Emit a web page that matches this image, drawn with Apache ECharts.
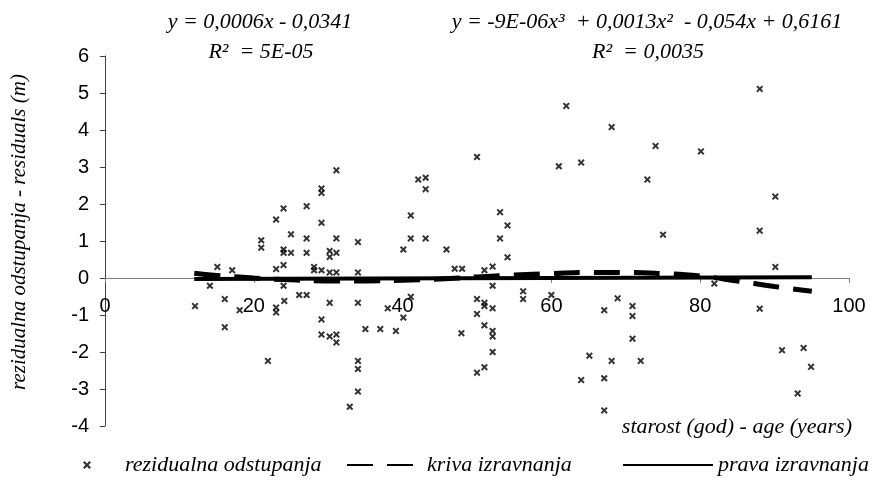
<!DOCTYPE html>
<html>
<head>
<meta charset="utf-8">
<script src="https://cdn.jsdelivr.net/npm/echarts@6/dist/echarts.min.js"></script>
<style>
  html, body { margin: 0; padding: 0; background: #fff; }
  #chart { width: 889px; height: 497px; }
</style>
</head>
<body>
<div id="chart"></div>
<script>
  // residuals (age in years, residual in m)
  const residualAge = [
    12.1, 14.1, 15.1, 16.1, 16.1, 17.1, 18.1, 21.0, 21.0, 21.9,
    23.0, 23.0, 23.0, 23.0, 24.0, 24.0, 24.0, 24.0, 24.0, 24.1,
    25.0, 25.0, 26.1, 27.1, 27.1, 27.1, 27.1, 28.1, 28.1, 29.1,
    29.1, 29.1, 29.1, 29.1, 29.1, 30.2, 30.2, 30.2, 30.2, 30.2,
    31.1, 31.1, 31.1, 31.1, 31.1, 31.1, 32.9, 34.0, 34.0, 34.0,
    34.0, 34.0, 34.0, 35.0, 37.0, 38.0, 39.1, 40.1, 40.1, 41.1,
    41.1, 41.1, 42.1, 43.1, 43.1, 43.1, 45.9, 47.0, 47.9, 48.0,
    50.0, 50.0, 50.0, 50.0, 51.0, 51.0, 51.0, 51.0, 51.0, 52.1,
    52.1, 52.1, 52.1, 52.1, 52.1, 53.1, 53.1, 54.1, 54.1, 56.2,
    56.2, 60.0, 61.0, 61.0, 62.0, 64.0, 64.0, 65.1, 67.1, 67.1,
    67.1, 68.1, 68.1, 68.9, 70.9, 70.9, 70.9, 72.0, 72.9, 74.0,
    75.0, 80.1, 81.9, 88.0, 88.0, 88.0, 90.1, 90.1, 91.0, 93.1,
    93.9, 94.9
  ]
  const residualValue = [
    -0.76, -0.21, 0.30, -0.57, -1.33, 0.21, -0.87, 1.02, 0.82, -2.24,
    1.58, 0.24, -0.80, -0.93, 1.88, 0.77, 0.68, 0.35, -0.21, -0.62,
    1.18, 0.68, -0.46, 1.94, 1.07, 0.68, -0.46, 0.30, 0.21, 2.42,
    2.30, 1.49, 0.21, -1.12, -1.53, 0.73, 0.57, 0.15, -0.67, -1.58,
    2.91, 1.07, 0.68, 0.15, -1.53, -1.74, -3.48, 0.97, 0.15, -0.67,
    -2.24, -2.46, -3.07, -1.38, -1.38, -0.82, -1.43, 0.77, -1.07, 1.69,
    1.07, -0.51, 2.66, 2.71, 2.40, 1.07, 0.77, 0.25, -1.49, 0.25,
    3.27, -0.57, -0.97, -2.56, 0.21, -0.67, -0.76, -1.28, -2.41, 0.31,
    -0.21, -0.82, -1.43, -1.58, -2.00, 1.78, 1.07, 1.42, 0.56, -0.36,
    -0.57, -0.46, 3.02, 0.10, 4.65, 3.12, -2.76, -2.10, -0.87, -2.71,
    -3.58, 4.08, -2.24, -0.55, -0.76, -1.03, -1.64, -2.24, 2.66, 3.57,
    1.17, 3.42, -0.15, 5.11, 1.28, -0.83, 2.20, 0.30, -1.95, -3.12,
    -1.89, -2.40
  ]

  // cubic trend ("kriva")
  const curveAge = [12, 15, 20, 25, 30, 35, 40, 45, 50, 55, 60, 65, 70, 75, 80, 85, 90, 95]
  const curveValue = [0.13, 0.07, 0.0, -0.05, -0.08, -0.08, -0.06, -0.03, 0.03, 0.08,
    0.12, 0.15, 0.15, 0.12, 0.05, -0.08, -0.23, -0.36]

  // linear trend ("prava"), end points
  const lineAge = [12, 95]
  const lineValue = [-0.03, 0.02]

  const xTicks = { min: 0, max: 100, interval: 20 }
  const yTicks = { min: -4, max: 6, interval: 1 }

  const eqLinear = ['y = 0,0006x - 0,0341', 'R²  = 5E-05']
  const eqCubic = ['y = -9E-06x³  + 0,0013x²  - 0,054x + 0,6161', 'R²  = 0,0035']

  const names = ['rezidualna odstupanja', 'kriva izravnanja', 'prava izravnanja']

  const serif = "'Liberation Serif', 'Times New Roman', serif"
  const sans = "'Liberation Sans', Arial, sans-serif"
  const cross = 'path://M0,2L2,0L5,3L8,0L10,2L7,5L10,8L8,10L5,7L2,10L0,8L3,5Z'

  // grid: top 56, height 370 for 10 units -> zero sits 148px above the bottom
  const gridTop = 56
  const gridBottom = 71
  const zeroOffset = -148

  const zip = (xs, ys) => xs.map((x, i) => [x, ys[i]])

  function eqText(x, y, text) {
    return {
      type: 'text',
      x: x,
      y: y,
      style: {
        text: text,
        font: 'italic 22px ' + serif,
        fill: '#000',
        align: 'center',
        verticalAlign: 'middle',
      },
    }
  }

  function legendText(padLeft) {
    return {
      fontFamily: serif,
      fontStyle: 'italic',
      fontSize: 22,
      color: '#000',
      padding: [0, 0, 0, padLeft],
    }
  }

  function buildOption() {
    return {
      animation: false,
      backgroundColor: '#fff',
      grid: { left: 105, right: 40, top: gridTop, bottom: gridBottom, containLabel: false },
      xAxis: {
        type: 'value',
        position: 'bottom',
        offset: zeroOffset,
        min: xTicks.min,
        max: xTicks.max,
        interval: xTicks.interval,
        axisLine: { onZero: false, lineStyle: { color: '#808080', width: 1 } },
        axisTick: { show: true, length: 5, lineStyle: { color: '#808080' } },
        axisLabel: { margin: 18, fontFamily: sans, fontSize: 20, color: '#000' },
        splitLine: { show: false },
      },
      yAxis: {
        type: 'value',
        min: yTicks.min,
        max: yTicks.max,
        interval: yTicks.interval,
        name: 'rezidualna odstupanja - residuals (m)',
        nameLocation: 'middle',
        nameGap: 75,
        nameTextStyle: {
          fontFamily: serif,
          fontStyle: 'italic',
          fontSize: 21,
          color: '#000',
          padding: [0, 0, 0, 18],
        },
        axisLine: { show: true, onZero: false, lineStyle: { color: '#404040', width: 1 } },
        axisTick: { show: true, length: 5, lineStyle: { color: '#404040' } },
        axisLabel: { margin: 16, fontFamily: sans, fontSize: 20, color: '#000' },
        splitLine: { show: false },
      },
      legend: [
        {
          data: [names[0]],
          left: 78,
          top: 449,
          itemWidth: 8,
          itemHeight: 8,
          textStyle: legendText(29),
        },
        {
          data: [names[1]],
          left: 341,
          top: 449,
          itemWidth: 75,
          itemHeight: 14,
          itemStyle: { opacity: 0 },
          textStyle: legendText(0),
        },
        {
          data: [names[2]],
          left: 617,
          top: 449,
          itemWidth: 90,
          itemHeight: 14,
          itemStyle: { opacity: 0 },
          textStyle: legendText(0),
        },
      ],
      graphic: [
        eqText(260, 22, eqLinear[0]),
        eqText(261, 52, eqLinear[1]),
        eqText(647, 22, eqCubic[0]),
        eqText(648, 52, eqCubic[1]),
        {
          type: 'text',
          right: 37,
          top: 416,
          style: {
            text: 'starost (god) - age (years)',
            font: 'italic 22px ' + serif,
            fill: '#000',
          },
        },
      ],
      series: [
        {
          name: names[0],
          type: 'scatter',
          data: zip(residualAge, residualValue),
          symbol: cross,
          symbolSize: 7,
          itemStyle: { color: '#000' },
          z: 3,
        },
        {
          name: names[1],
          type: 'line',
          data: zip(curveAge, curveValue),
          smooth: true,
          symbol: 'none',
          lineStyle: { color: '#000', width: 5, type: [26, 14] },
          itemStyle: { color: '#000' },
          z: 4,
        },
        {
          name: names[2],
          type: 'line',
          data: zip(lineAge, lineValue),
          symbol: 'none',
          lineStyle: { color: '#000', width: 4 },
          itemStyle: { color: '#000' },
          z: 4,
        },
      ],
    }
  }

  const chart = echarts.init(document.getElementById('chart'), undefined, { renderer: 'canvas' })
  chart.setOption(buildOption())
</script>
</body>
</html>
